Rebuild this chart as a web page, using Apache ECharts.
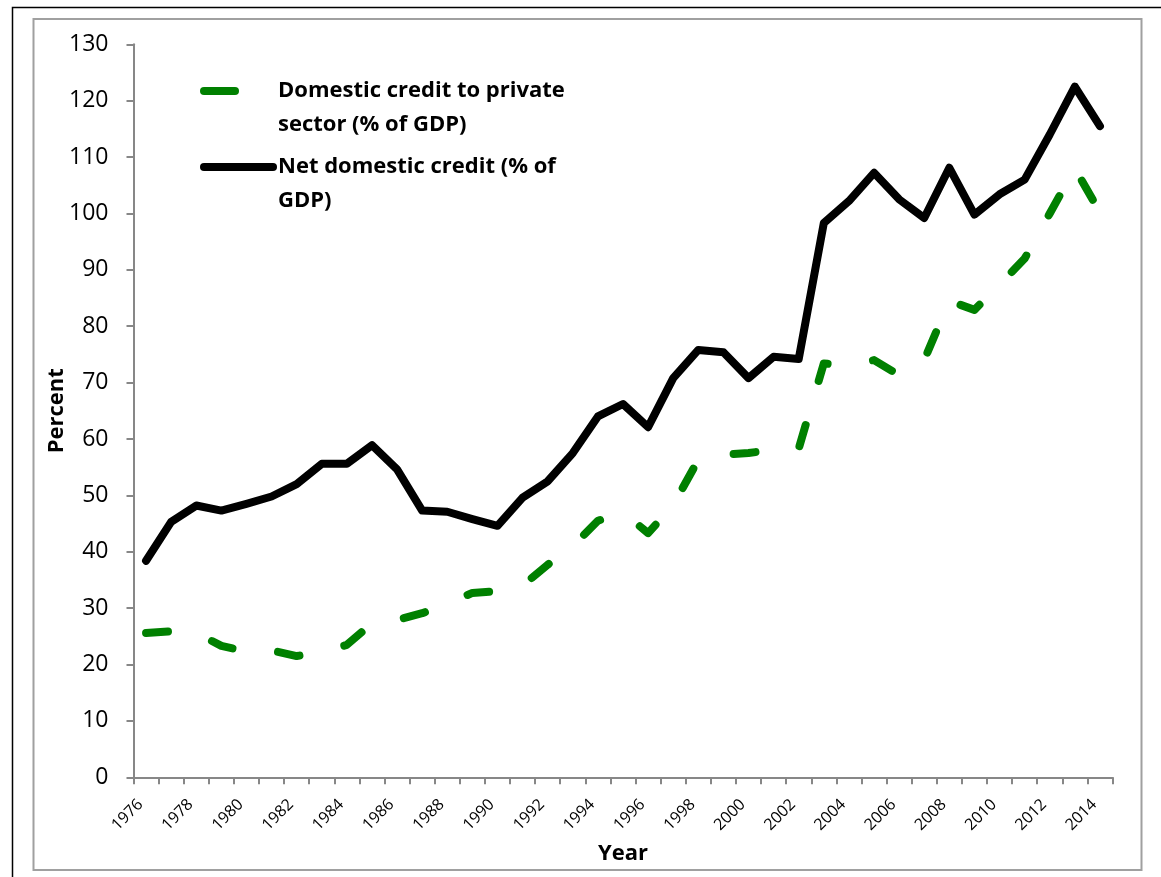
<!DOCTYPE html>
<html>
<head>
<meta charset="utf-8">
<script src="https://cdn.jsdelivr.net/npm/echarts@6/dist/echarts.min.js"></script>
<style>
  html, body { margin: 0; padding: 0; background: #fff; }
  #chart { width: 1161px; height: 877px; }
</style>
</head>
<body>
<div id="chart"></div>
<script>
// Years on the category axis
const years = [
  '1976','1977','1978','1979','1980','1981','1982','1983','1984','1985',
  '1986','1987','1988','1989','1990','1991','1992','1993','1994','1995',
  '1996','1997','1998','1999','2000','2001','2002','2003','2004','2005',
  '2006','2007','2008','2009','2010','2011','2012','2013','2014'
];

// Domestic credit to private sector (% of GDP)
const privateCredit = [
  25.6, 25.9, 25.6, 23.3, 22.3, 22.5, 21.5, 22.2, 23.5, 27.3,
  27.9, 29.1, 30.8, 32.7, 33.0, 34.0, 37.7, 41.0, 45.5, 47.0,
  43.3, 48.3, 56.3, 57.2, 57.5, 58.1, 58.3, 73.4, 73.0, 74.0,
  71.3, 74.0, 84.5, 82.9, 87.4, 92.0, 100.0, 108.0, 100.2
];

// Net domestic credit (% of GDP)
const netCredit = [
  38.4, 45.3, 48.2, 47.3, 48.5, 49.8, 52.0, 55.6, 55.6, 58.9,
  54.6, 47.3, 47.1, 45.8, 44.6, 49.6, 52.5, 57.5, 64.0, 66.2,
  62.1, 70.8, 75.8, 75.4, 70.8, 74.6, 74.2, 98.3, 102.2, 107.2,
  102.5, 99.2, 108.1, 99.8, 103.4, 106.0, 114.0, 122.5, 115.5
];

const seriesNames = ['Domestic credit to private sector (% of GDP)', 'Net domestic credit (% of GDP)'];
// Legend text split over two lines; the leading blank line keeps the
// marker level with the first line of text.
const legendLines = {
  'Domestic credit to private sector (% of GDP)': '\nDomestic credit to private\nsector (% of GDP)',
  'Net domestic credit (% of GDP)': '\nNet domestic credit (% of\nGDP)'
};

const FONT = 'Open Sans';
const AXIS_GREY = '#878787';
const GREEN = '#008000';

const chart = echarts.init(document.getElementById('chart'), null, { renderer: 'canvas' });

function legendFor(name, top, dash) {
  return {
    show: true,
    selectedMode: false,
    orient: 'vertical',
    left: 200,
    top: top,
    padding: 0,
    itemWidth: 69,
    itemHeight: 2,
    data: [{
      name: name,
      itemStyle: { opacity: 0 },
      lineStyle: { type: dash || 'solid', width: 8, cap: 'round' }
    }],
    formatter: n => legendLines[n],
    textStyle: {
      fontFamily: FONT,
      fontWeight: 'bold',
      fontSize: 22,
      lineHeight: 34,
      color: '#000'
    }
  };
}

const option = {
  animation: false,
  backgroundColor: '#fff',
  graphic: [
    { type: 'rect', silent: true, z: -10,
      shape: { x: 12.5, y: 7.5, width: 1200, height: 900 },
      style: { fill: null, stroke: '#000', lineWidth: 1.5 } },
    { type: 'rect', silent: true, z: -9,
      shape: { x: 33.5, y: 19, width: 1108, height: 851 },
      style: { fill: null, stroke: '#a0a0a0', lineWidth: 2 } }
  ],
  legend: [
    legendFor(seriesNames[0], 40, [31, 60]),
    legendFor(seriesNames[1], 116, null)
  ],
  grid: { left: 133.5, top: 44.3, right: 48.5, bottom: 99.7, containLabel: false },
  xAxis: {
    type: 'category',
    data: years,
    boundaryGap: true,
    name: 'Year',
    nameLocation: 'middle',
    nameGap: 65,
    nameMoveOverlap: false,
    nameTextStyle: { fontFamily: FONT, fontWeight: 'bold', fontSize: 22, color: '#000' },
    axisLine: { lineStyle: { color: AXIS_GREY, width: 2 } },
    axisTick: { show: true, interval: 0, length: 7, lineStyle: { color: AXIS_GREY, width: 2 } },
    axisLabel: {
      interval: 1,
      rotate: 45,
      margin: 19,
      padding: [0, 8, 0, 0],
      fontFamily: FONT,
      fontSize: 16,
      color: '#000'
    },
    splitLine: { show: false }
  },
  yAxis: {
    type: 'value',
    min: 0,
    max: 130,
    interval: 10,
    name: 'Percent',
    nameLocation: 'middle',
    nameGap: 66,
    nameMoveOverlap: false,
    nameTextStyle: { fontFamily: FONT, fontWeight: 'bold', fontSize: 22, color: '#000' },
    axisLine: { show: true, lineStyle: { color: AXIS_GREY, width: 2 } },
    axisTick: { show: true, length: 7, lineStyle: { color: AXIS_GREY, width: 2 } },
    axisLabel: { margin: 25, fontFamily: FONT, fontSize: 23, color: '#000' },
    splitLine: { show: false }
  },
  series: [
    {
      name: seriesNames[0],
      type: 'line',
      data: privateCredit,
      symbol: 'none',
      color: GREEN,
      lineStyle: { color: GREEN, width: 8, type: [22, 46], cap: 'round', join: 'round' },
      z: 3
    },
    {
      name: seriesNames[1],
      type: 'line',
      data: netCredit,
      symbol: 'none',
      color: '#000',
      lineStyle: { color: '#000', width: 8, type: 'solid', cap: 'round', join: 'round' },
      z: 2
    }
  ]
};

chart.setOption(option);
</script>
</body>
</html>
